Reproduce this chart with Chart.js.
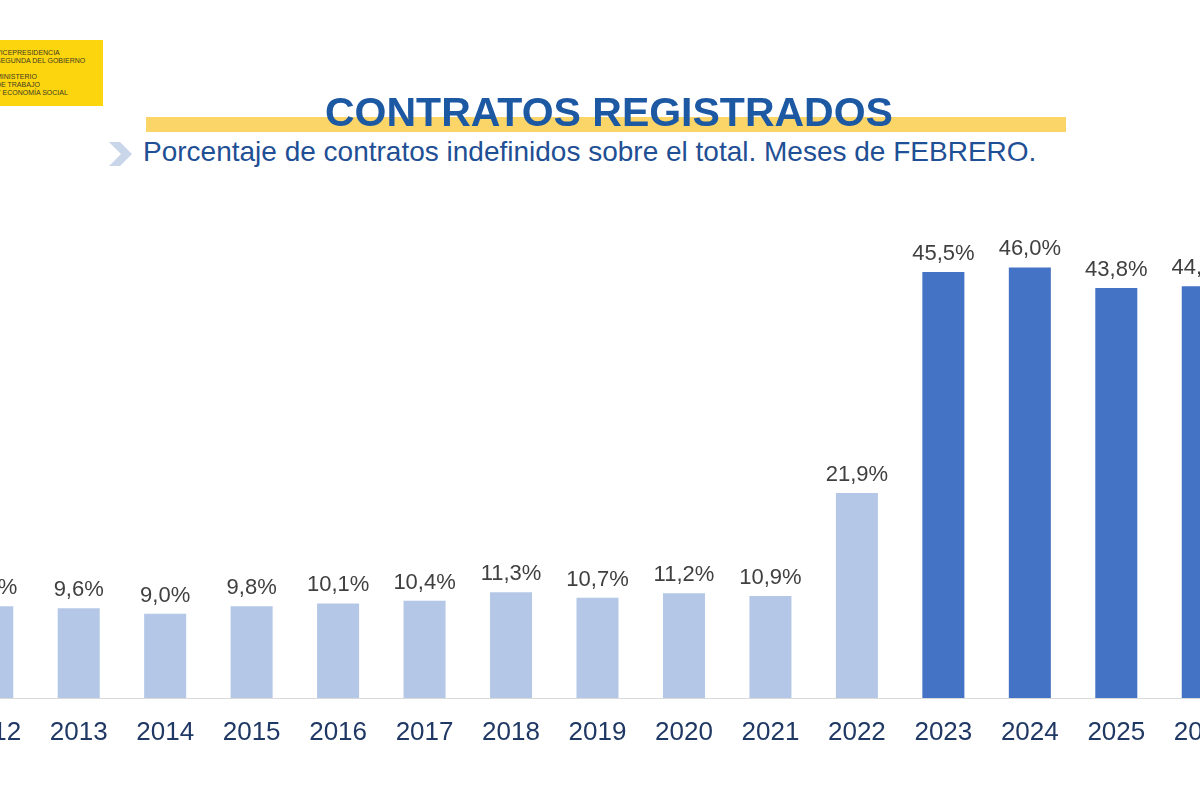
<!DOCTYPE html>
<html>
<head>
<meta charset="utf-8">
<script src="https://cdn.jsdelivr.net/npm/chart.js@4/dist/chart.umd.min.js"></script>
<style>
  html, body { margin: 0; padding: 0; background: #fff; overflow: hidden; }
  body { width: 1200px; height: 800px; position: relative; font-family: "Liberation Sans", Arial, sans-serif; }
  #logo { position: absolute; left: 0; top: 40px; width: 103px; height: 66px; background: #fdd50f; overflow: hidden; }
  #logo div { position: absolute; left: -4px; font-size: 7px; line-height: 8px; color: #3d3a22; white-space: nowrap; }
  #title { position: absolute; left: 0; width: 1218px; top: 92px; text-align: center; font-size: 41px; line-height: 41px; font-weight: bold; color: #1d58a3; z-index: 2; }
  #titleBar { position: absolute; left: 146px; top: 117px; width: 920px; height: 15px; background: #fcd568; z-index: 1; }
  #subtitle { position: absolute; left: 143px; top: 138px; font-size: 28px; line-height: 28px; color: #1f4f94; white-space: nowrap; }
  #chev { position: absolute; left: 0; top: 0; }
  #wrap { position: absolute; left: -51px; top: 0; width: 1297px; height: 800px; }
</style>
</head>
<body>
<div id="logo">
  <div style="top:9px">VICEPRESIDENCIA</div>
  <div style="top:17px">SEGUNDA DEL GOBIERNO</div>
  <div style="top:33px">MINISTERIO</div>
  <div style="top:41px">DE TRABAJO</div>
  <div style="top:49px">Y ECONOMÍA SOCIAL</div>
</div>
<div id="titleBar"></div>
<div id="title">CONTRATOS REGISTRADOS</div>
<svg id="chev" width="200" height="200">
  <polygon points="109,142 120,142 132,154 120,166 109,166 121,154" fill="#c9d5e9"/>
</svg>
<div id="subtitle">Porcentaje de contratos indefinidos sobre el total. Meses de FEBRERO.</div>
<div id="wrap"><canvas id="chart"></canvas></div>

<script>
// años (febrero de cada año)
const years = ['2012', '2013', '2014', '2015', '2016', '2017', '2018', '2019',
               '2020', '2021', '2022', '2023', '2024', '2025', '2026'];
// % de contratos indefinidos sobre el total
const shareIndef = [9.8, 9.6, 9.0, 9.8, 10.1, 10.4, 11.3, 10.7,
                    11.2, 10.9, 21.9, 45.5, 46.0, 43.8, 44.0];

const barColors = years.map(y => Number(y) >= 2023 ? '#4472c4' : '#b4c7e7');

const valueLabels = {
  id: 'valueLabels',
  afterDatasetsDraw(chart) {
    const ctx = chart.ctx;
    const meta = chart.getDatasetMeta(0);
    ctx.save();
    ctx.font = '22px "Liberation Sans", Arial, sans-serif';
    ctx.fillStyle = '#404040';
    ctx.textAlign = 'center';
    ctx.textBaseline = 'alphabetic';
    meta.data.forEach((bar, i) => {
      const txt = shareIndef[i].toFixed(1).replace('.', ',') + '%';
      ctx.fillText(txt, bar.x, bar.y - 12);
    });
    ctx.restore();
  }
};

new Chart(document.getElementById('chart'), {
  type: 'bar',
  data: {
    labels: years,
    datasets: [{
      data: shareIndef,
      backgroundColor: barColors,
      borderWidth: 0,
      categoryPercentage: 1,
      barPercentage: 0.486
    }]
  },
  options: {
    responsive: true,
    maintainAspectRatio: false,
    animation: false,
    layout: { padding: { top: 230, left: 0, right: 0, bottom: 0 } },
    plugins: { legend: { display: false }, tooltip: { enabled: false } },
    scales: {
      x: {
        grid: { display: false },
        border: { display: true, color: '#d9d9d9', width: 1 },
        ticks: {
          color: '#203864',
          padding: 11,
          font: { family: '"Liberation Sans", Arial, sans-serif', size: 26 }
        },
        afterFit(scale) { scale.height = 102; }
      },
      y: {
        display: false,
        min: 0,
        max: 50
      }
    }
  },
  plugins: [valueLabels]
});
</script>
</body>
</html>
